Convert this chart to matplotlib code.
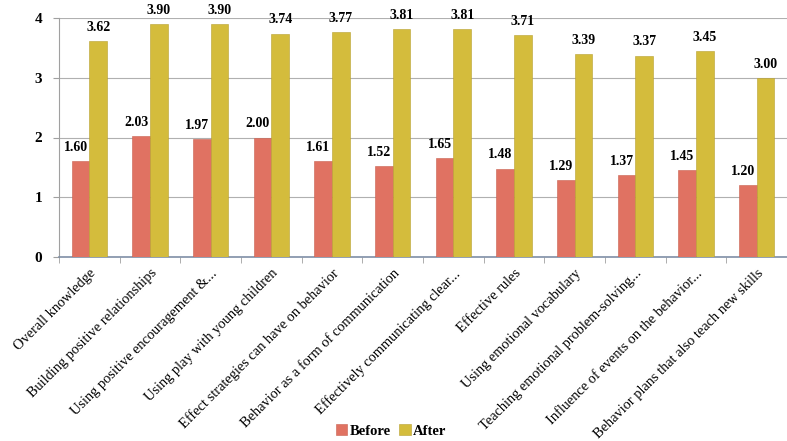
import matplotlib
matplotlib.use("Agg")
import matplotlib.pyplot as plt
import numpy as np

categories = ["Overall knowledge", "Building positive relationships",
              "Using positive encouragement &...", "Using play with young children",
              "Effect strategies can have on behavior", "Behavior as a form of communication",
              "Effectively communicating clear...", "Effective rules",
              "Using emotional vocabulary", "Teaching emotional problem-solving...",
              "Influence of events on the behavior...", "Behavior plans that also teach new skills"]
before = [1.60, 2.03, 1.97, 2.00, 1.61, 1.52, 1.65, 1.48, 1.29, 1.37, 1.45, 1.20]
after = [3.62, 3.90, 3.90, 3.74, 3.77, 3.81, 3.81, 3.71, 3.39, 3.37, 3.45, 3.00]
yticks = [0, 1, 2, 3, 4]

plt.rcParams['font.family'] = ['Liberation Serif', 'DejaVu Serif']
red = '#E07262'
yel = '#D4BC3C'

fig = plt.figure(figsize=(7.87, 4.41), dpi=100)
ax = fig.add_axes([59/787, 1-257/441, 1-59/787, (257-18)/441])
x = np.arange(len(categories))
w = 0.29
ax.bar(x - w/2, before, w, color=red, edgecolor='#C86050', linewidth=0.4, label='Before', zorder=3)
ax.bar(x + w/2, after, w, color=yel, edgecolor='#B8A030', linewidth=0.4, label='After', zorder=3)
for xi, v in zip(x, before):
    ax.text(xi - w/2 - 0.08, v + 0.12, f"{v:.2f}", ha='center', va='bottom', fontsize=10, fontweight='bold')
for xi, v in zip(x, after):
    ax.text(xi + w/2, v + 0.12, f"{v:.2f}", ha='center', va='bottom', fontsize=10, fontweight='bold', clip_on=False)

ax.set_xlim(-0.5, 11.3)
ax.set_ylim(0, 4)
ax.set_yticks(yticks)
ax.set_yticklabels([str(t) for t in yticks], fontsize=11, fontweight='bold')
ax.yaxis.grid(True, color='#B0B0B0', linewidth=0.8, zorder=0)
ax.set_xticks(x)
ax.set_xticklabels(categories, rotation=45, ha='right', rotation_mode='anchor', fontsize=10.4)
ax.tick_params(axis='x', length=0, pad=7)
ax.set_xticks(np.arange(-0.5, 12, 1), minor=True)
ax.tick_params(axis='x', which='minor', length=4, color='#A0A0A0', direction='out')
ax.tick_params(axis='y', length=4, color='#A0A0A0', direction='out', pad=8)
for s in ['top', 'right']:
    ax.spines[s].set_visible(False)
ax.spines['left'].set_color('#A0A0A0')
ax.spines['bottom'].set_color('#7F8FA6')
ax.spines['bottom'].set_linewidth(1.2)

leg = fig.legend(loc='lower center', bbox_to_anchor=(0.497, -0.022), ncol=2, frameon=False,
                 handlelength=0.8, handleheight=0.8, handletextpad=0.15, columnspacing=0.6,
                 prop={'size': 10.5, 'weight': 'bold'})
fig.savefig('out.png', dpi=100)
